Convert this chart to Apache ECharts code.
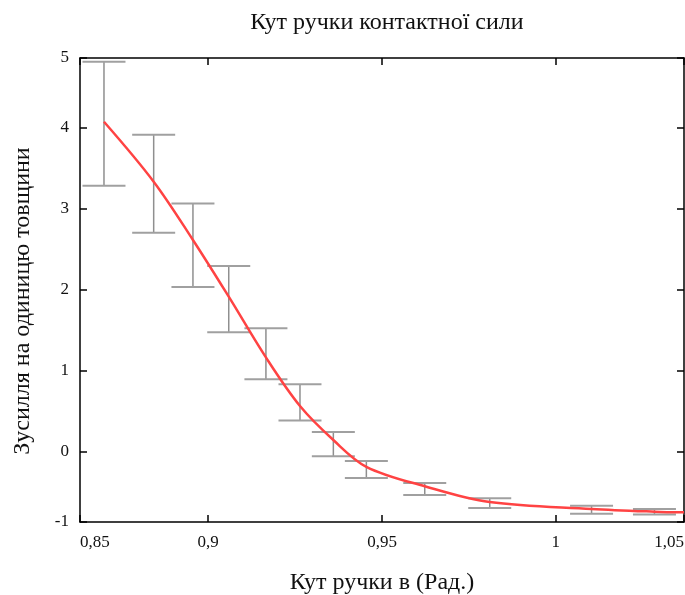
<!DOCTYPE html>
<html>
<head>
<meta charset="utf-8">
<script src="https://cdn.jsdelivr.net/npm/echarts@6/dist/echarts.min.js"></script>
<style>
html,body{margin:0;padding:0;background:#fff;}
#chart{width:685px;height:595px;}
</style>
</head>
<body>
<div id="chart"></div>
<script>
// Error bars: x position, lower and upper value
var errX    = [0.8700, 0.8843, 0.8956, 0.9059, 0.9166, 0.9264, 0.9360, 0.9455, 0.9623, 0.9810, 1.0103, 1.0284];
var errHigh = [4.81, 3.91, 3.06, 2.29, 1.52, 0.83, 0.24, -0.12, -0.39, -0.58, -0.67, -0.71];
var errLow  = [3.28, 2.70, 2.03, 1.47, 0.89, 0.38, -0.06, -0.33, -0.54, -0.70, -0.77, -0.78];

// Fitted curve
var curveX = [0.8700, 0.8843, 0.8956, 0.9059, 0.9166, 0.9264, 0.9360, 0.9455, 0.9623, 0.9810, 1.0103, 1.0284, 1.0369];
var curveY = [4.07, 3.33, 2.61, 1.91, 1.16, 0.56, 0.14, -0.19, -0.43, -0.625, -0.71, -0.744, -0.753];

// Axis extents and tick labels
var xMin = 0.8631, xMax = 1.0369;
var yMin = -0.872, yMax = 4.857;
var xTickLabels = ['0,85', '0,9', '0,95', '1', '1,05'];
var xTickValues = [0.85, 0.9, 0.95, 1.0, 1.05];
var yTickLabels = ['-1', '0', '1', '2', '3', '4', '5'];
var yTickValues = [-1, 0, 1, 2, 3, 4, 5];

var titleText = 'Кут ручки контактної сили';
var xName = 'Кут ручки в (Рад.)';
var yName = 'Зусилля на одиницю товщини';

var FONT = '"Liberation Serif", "Times New Roman", serif';

function nearestLabel(v, vals, labels) {
  var best = 0, bd = Infinity;
  for (var i = 0; i < vals.length; i++) {
    var d = Math.abs(vals[i] - v);
    if (d < bd) { bd = d; best = i; }
  }
  return labels[best];
}

var errData = errX.map(function (x, i) { return [x, errLow[i], errHigh[i]]; });
var curveData = curveX.map(function (x, i) { return [x, curveY[i]]; });

var axisLineStyle = { color: '#000', width: 1.5 };

var chart = echarts.init(document.getElementById('chart'), null, { renderer: 'canvas' });
chart.setOption({
  backgroundColor: '#fff',
  animation: false,
  title: {
    text: titleText,
    left: 382,
    top: 6,
    textAlign: 'center',
    textStyle: { fontFamily: FONT, fontSize: 24, fontWeight: 'normal', color: '#111' }
  },
  grid: { left: 80, right: 1, top: 58, bottom: 73, containLabel: false, outerBoundsMode: 'none' },
  xAxis: [{
    type: 'value', min: xMin, max: xMax, splitNumber: 4,
    position: 'bottom',
    name: xName, nameLocation: 'middle', nameGap: 49,
    nameTextStyle: { fontFamily: FONT, fontSize: 24, color: '#111' },
    axisLine: { show: true, onZero: false, lineStyle: axisLineStyle },
    axisTick: { show: true, inside: true, length: 7, lineStyle: { color: '#000', width: 1.5 } },
    splitLine: { show: false },
    axisLabel: {
      fontFamily: FONT, fontSize: 17, color: '#111', margin: 12,
      showMinLabel: true, showMaxLabel: true,
      alignMinLabel: 'left', alignMaxLabel: 'right',
      formatter: function (v) { return nearestLabel(v, xTickValues, xTickLabels); }
    }
  }, {
    type: 'value', min: xMin, max: xMax, splitNumber: 4,
    position: 'top',
    axisLine: { show: true, onZero: false, lineStyle: axisLineStyle },
    axisTick: { show: true, inside: true, length: 7, lineStyle: { color: '#000', width: 1.5 } },
    splitLine: { show: false },
    axisLabel: { show: false }
  }],
  yAxis: [{
    type: 'value', min: yMin, max: yMax, splitNumber: 5,
    position: 'left',
    name: yName, nameLocation: 'middle', nameGap: 45, nameRotate: 90,
    nameTextStyle: { fontFamily: FONT, fontSize: 24, color: '#111', padding: [0, 22, 0, 0] },
    axisLine: { show: true, onZero: false, lineStyle: axisLineStyle },
    axisTick: { show: true, inside: true, length: 7, lineStyle: { color: '#000', width: 1.5 } },
    splitLine: { show: false },
    axisLabel: {
      fontFamily: FONT, fontSize: 17, color: '#111', margin: 11,
      showMinLabel: true, showMaxLabel: true,
      formatter: function (v) { return nearestLabel(v, yTickValues, yTickLabels); }
    }
  }, {
    type: 'value', min: yMin, max: yMax, splitNumber: 5,
    position: 'right',
    axisLine: { show: true, onZero: false, lineStyle: axisLineStyle },
    axisTick: { show: true, inside: true, length: 7, lineStyle: { color: '#000', width: 1.5 } },
    splitLine: { show: false },
    axisLabel: { show: false }
  }],
  series: [{
    type: 'custom',
    xAxisIndex: 0, yAxisIndex: 0,
    data: errData,
    z: 2,
    renderItem: function (params, api) {
      var x = api.value(0);
      var lo = api.coord([x, api.value(1)]);
      var hi = api.coord([x, api.value(2)]);
      var hw = 21.5;
      return {
        type: 'group',
        children: [
          { type: 'line', shape: { x1: lo[0], y1: lo[1], x2: hi[0], y2: hi[1] },
            style: { stroke: '#8f8f8f', lineWidth: 1.5 } },
          { type: 'line', shape: { x1: lo[0] - hw, y1: lo[1], x2: lo[0] + hw, y2: lo[1] },
            style: { stroke: '#a0a0a0', lineWidth: 2 } },
          { type: 'line', shape: { x1: hi[0] - hw, y1: hi[1], x2: hi[0] + hw, y2: hi[1] },
            style: { stroke: '#a0a0a0', lineWidth: 2 } }
        ]
      };
    }
  }, {
    type: 'line',
    xAxisIndex: 0, yAxisIndex: 0,
    data: curveData,
    smooth: 0.35,
    showSymbol: false,
    symbol: 'none',
    z: 3,
    lineStyle: { color: '#ff4343', width: 2.5 }
  }]
});
</script>
</body>
</html>
